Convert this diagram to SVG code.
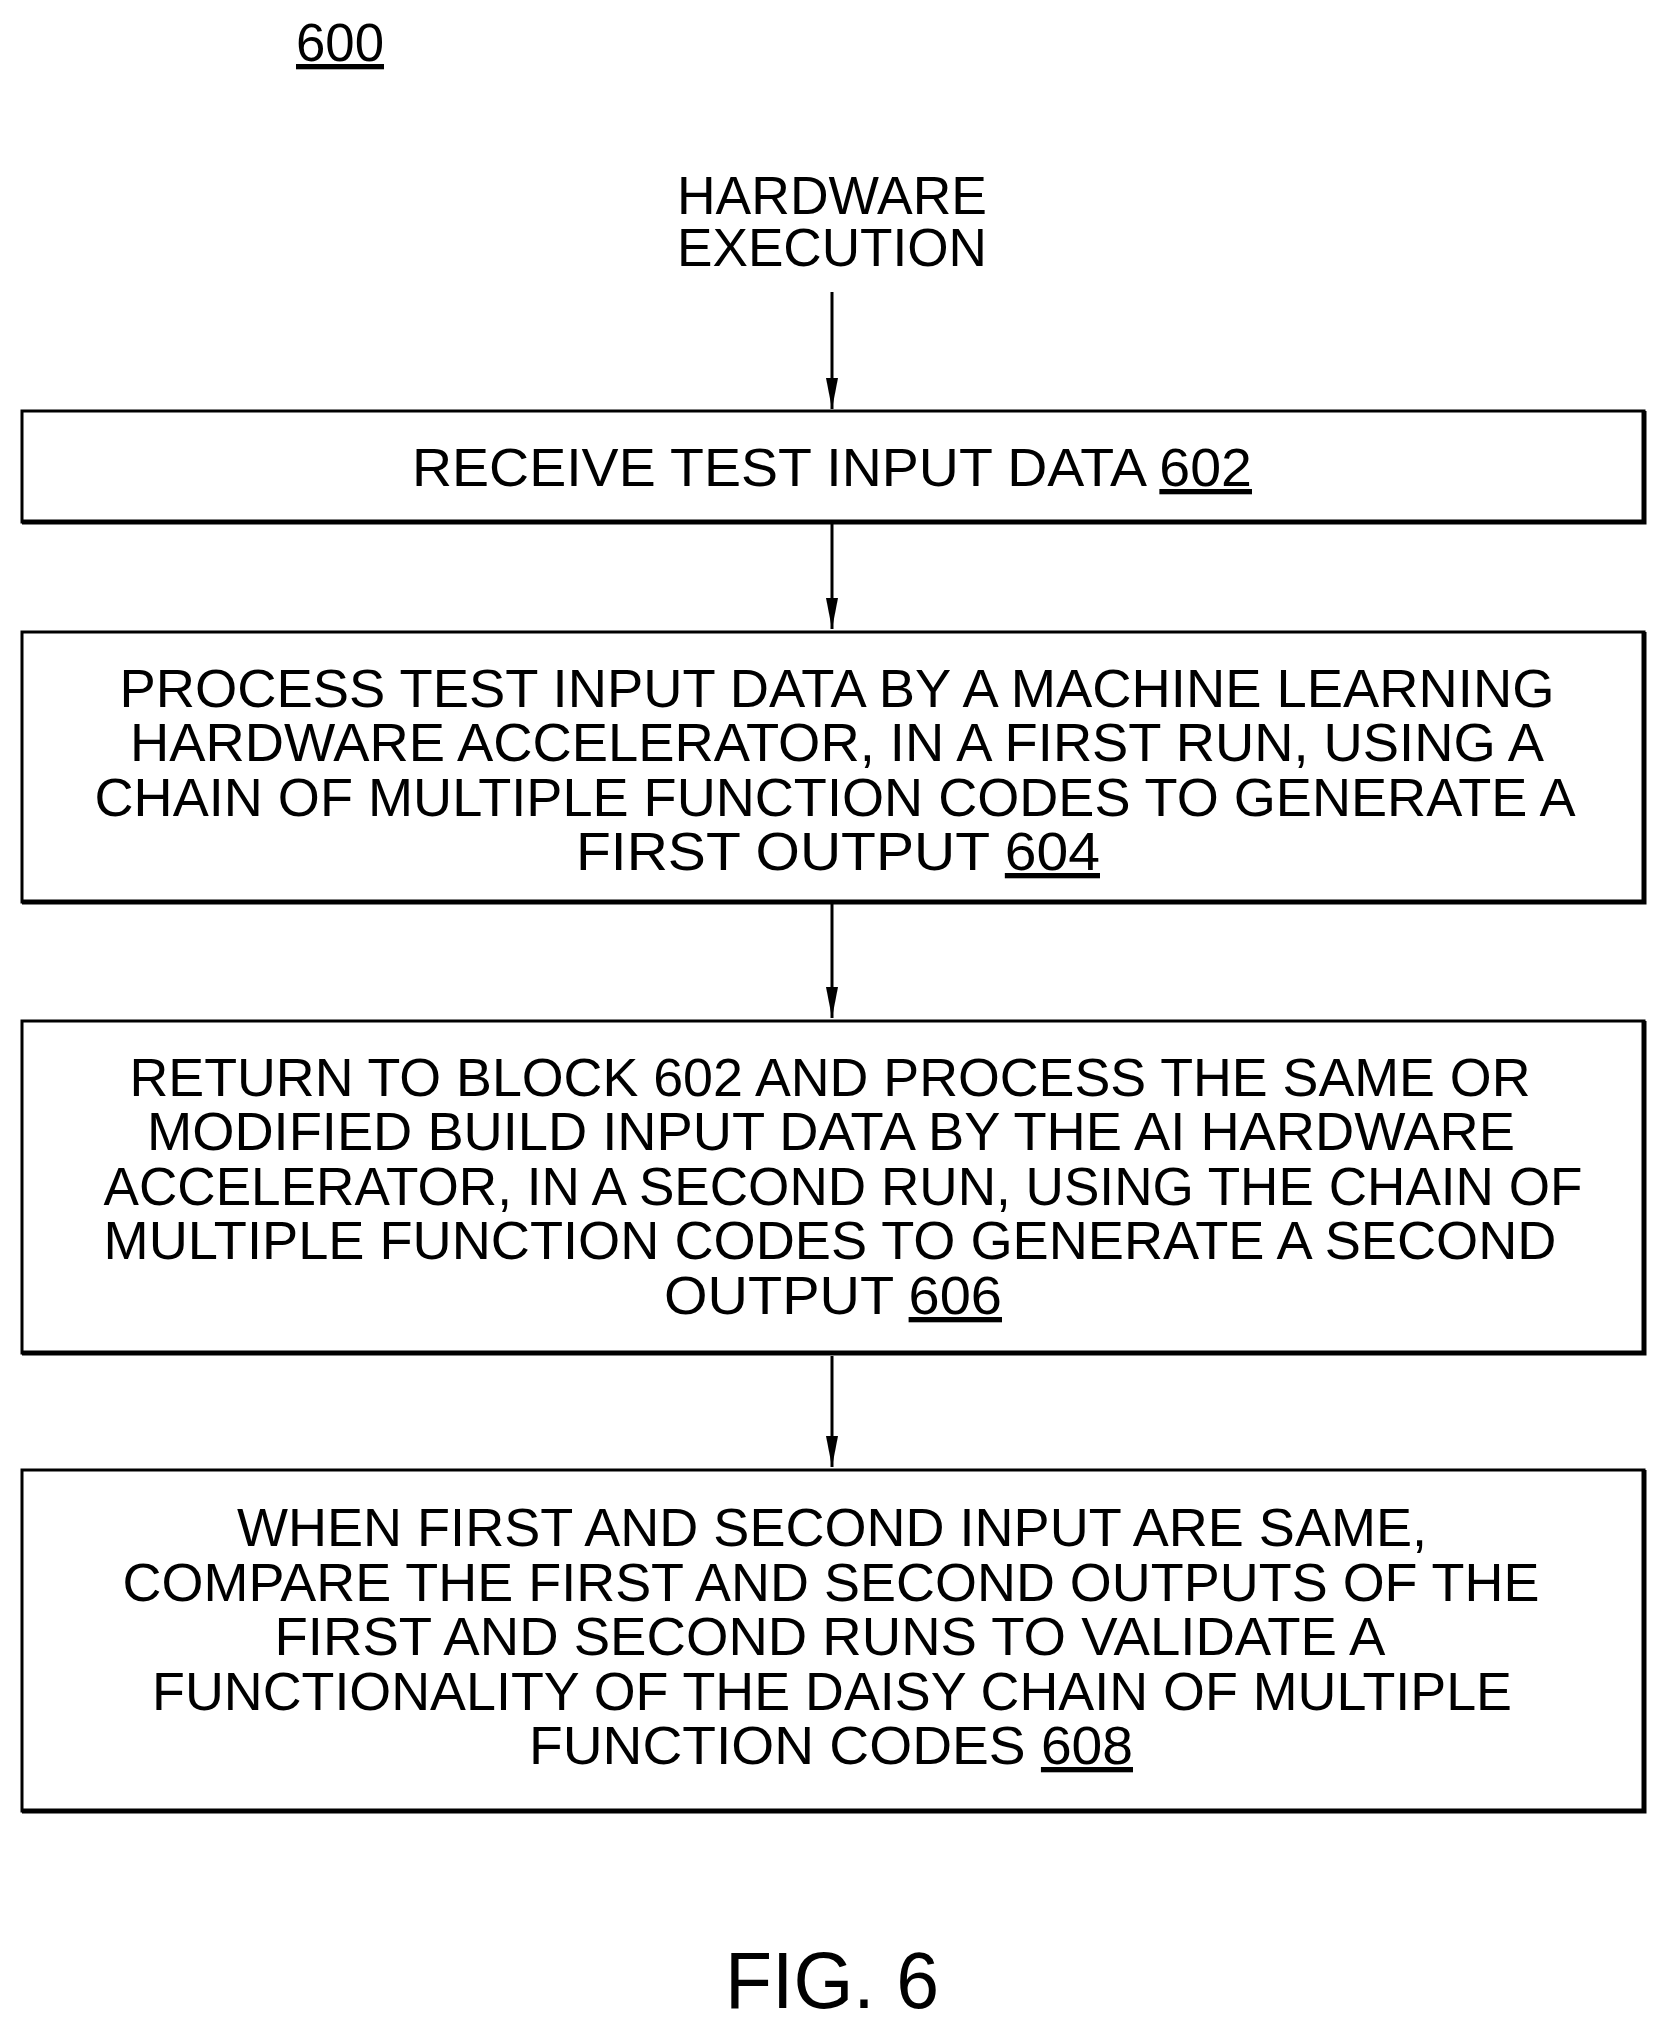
<svg xmlns="http://www.w3.org/2000/svg" width="1666" height="2034" viewBox="0 0 1666 2034">
<defs>
<style>
text{font-family:"Liberation Sans",Arial,sans-serif;font-size:53px;fill:#000;text-anchor:middle}
.u{text-decoration:underline}
.box{fill:#fff;stroke:#000;stroke-width:3}
.sh{fill:none;stroke:#000;stroke-width:5}
.c{stroke:#000;stroke-width:3;fill:none;marker-end:url(#a)}
</style>
<marker id="a" viewBox="0 0 10 30" refX="5" refY="30" markerWidth="10" markerHeight="30" markerUnits="userSpaceOnUse" orient="auto-start-reverse"><path d="M0,0 L5,30 L10,0 Z" fill="#000" transform="rotate(-90 5 15) translate(0 0)"/></marker>
</defs>
<rect width="1666" height="2034" fill="#fff"/>
<text x="340" y="61" class="u" lengthAdjust="spacingAndGlyphs" textLength="88">600</text>
<g id="start"><text x="832" y="214" textLength="310" lengthAdjust="spacingAndGlyphs">HARDWARE</text><text x="832" y="266" textLength="310" lengthAdjust="spacingAndGlyphs">EXECUTION</text></g>
<g id="connectors">
<line x1="832" y1="292" x2="832" y2="409" stroke="#000" stroke-width="3"/><path d="M826,378 L832,409 L838,378 Z"/>
<line x1="832" y1="524" x2="832" y2="629" stroke="#000" stroke-width="3"/><path d="M826,598 L832,629 L838,598 Z"/>
<line x1="832" y1="904" x2="832" y2="1018" stroke="#000" stroke-width="3"/><path d="M826,987 L832,1018 L838,987 Z"/>
<line x1="832" y1="1356" x2="832" y2="1467" stroke="#000" stroke-width="3"/><path d="M826,1436 L832,1467 L838,1436 Z"/>
</g>
<g id="n602"><rect class="box" x="22" y="411" width="1622" height="111"/><path class="sh" d="M22,522 H1644 V411"/>
<text x="832" y="486" textLength="840" lengthAdjust="spacingAndGlyphs">RECEIVE TEST INPUT DATA  <tspan class="u">602</tspan></text></g>
<g id="n604"><rect class="box" x="22" y="632" width="1622" height="270"/><path class="sh" d="M22,902 H1644 V632"/>
<text x="837" y="707" textLength="1435" lengthAdjust="spacingAndGlyphs">PROCESS TEST INPUT DATA BY A MACHINE LEARNING</text>
<text x="837" y="761" textLength="1414" lengthAdjust="spacingAndGlyphs">HARDWARE ACCELERATOR, IN A FIRST RUN, USING A</text>
<text x="835" y="816" textLength="1481" lengthAdjust="spacingAndGlyphs">CHAIN OF MULTIPLE FUNCTION CODES TO GENERATE A</text>
<text x="838" y="870" textLength="524" lengthAdjust="spacingAndGlyphs">FIRST OUTPUT   <tspan class="u">604</tspan></text></g>
<g id="n606"><rect class="box" x="22" y="1021" width="1622" height="332"/><path class="sh" d="M22,1353 H1644 V1021"/>
<text x="830" y="1096" textLength="1401" lengthAdjust="spacingAndGlyphs">RETURN TO BLOCK 602 AND PROCESS THE SAME OR</text>
<text x="831" y="1150" textLength="1368" lengthAdjust="spacingAndGlyphs">MODIFIED BUILD INPUT DATA BY THE AI HARDWARE</text>
<text x="843" y="1205" textLength="1479" lengthAdjust="spacingAndGlyphs">ACCELERATOR, IN A SECOND RUN, USING THE CHAIN OF</text>
<text x="830" y="1259" textLength="1453" lengthAdjust="spacingAndGlyphs">MULTIPLE FUNCTION CODES TO GENERATE A SECOND</text>
<text x="833" y="1314" textLength="338" lengthAdjust="spacingAndGlyphs">OUTPUT  <tspan class="u">606</tspan></text></g>
<g id="n608"><rect class="box" x="22" y="1470" width="1622" height="341"/><path class="sh" d="M22,1811 H1644 V1470"/>
<text x="832" y="1546" textLength="1190" lengthAdjust="spacingAndGlyphs">WHEN FIRST AND SECOND INPUT ARE SAME,</text>
<text x="831" y="1601" textLength="1417" lengthAdjust="spacingAndGlyphs">COMPARE THE FIRST AND SECOND OUTPUTS OF THE</text>
<text x="830" y="1655" textLength="1111" lengthAdjust="spacingAndGlyphs">FIRST AND SECOND RUNS TO VALIDATE A</text>
<text x="832" y="1710" textLength="1360" lengthAdjust="spacingAndGlyphs">FUNCTIONALITY OF THE DAISY CHAIN OF MULTIPLE</text>
<text x="831" y="1764" textLength="604" lengthAdjust="spacingAndGlyphs">FUNCTION CODES  <tspan class="u">608</tspan></text></g>
<text x="832" y="2008" style="font-size:80px" textLength="214" lengthAdjust="spacingAndGlyphs">FIG. 6</text>
</svg>
